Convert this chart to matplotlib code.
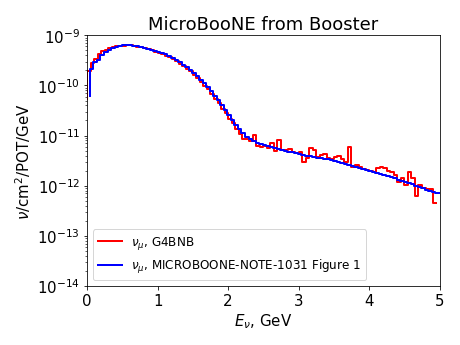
import numpy as np
import matplotlib
matplotlib.use('Agg')
import matplotlib.pyplot as plt

# G4BNB flux, 0.05 GeV bins starting at 0 (first entry is the starting level)
g4_edges = np.round(np.arange(0, 4.96, 0.05), 3)
g4_log = [-10.27,
    -9.72, -9.55, -9.47, -9.37, -9.32, -9.30, -9.26, -9.24, -9.21, -9.21,
    -9.21, -9.20, -9.19, -9.21, -9.23, -9.24, -9.26, -9.28, -9.30, -9.33,
    -9.35, -9.37, -9.41, -9.44, -9.48, -9.52, -9.57, -9.62, -9.68, -9.72,
    -9.79, -9.86, -9.93, -10.02, -10.08, -10.18, -10.27, -10.35, -10.46, -10.55,
    -10.66, -10.75, -10.86, -10.96, -11.07, -11.07, -11.10, -10.98, -11.20, -11.22,
    -11.20, -11.25, -11.14, -11.30, -11.08, -11.29, -11.29, -11.27, -11.33, -11.34,
    -11.33, -11.52, -11.45, -11.25, -11.28, -11.42, -11.38, -11.37, -11.45, -11.46,
    -11.43, -11.40, -11.47, -11.52, -11.23, -11.62, -11.58, -11.62, -11.67, -11.68,
    -11.70, -11.72, -11.65, -11.62, -11.64, -11.70, -11.72, -11.78, -11.92, -11.85,
    -11.98, -11.73, -11.85, -12.20, -11.98, -12.04, -12.06, -12.06, -12.34]

# MICROBOONE-NOTE-1031 Figure 1
note_edges = np.round(np.arange(0.04, 5.0, 0.05), 3)
note_log = [-10.22,
    -9.68, -9.53, -9.50, -9.40, -9.33, -9.30, -9.26, -9.23, -9.21, -9.20,
    -9.20, -9.20, -9.21, -9.22, -9.23, -9.25, -9.27, -9.29, -9.31, -9.33,
    -9.36, -9.38, -9.42, -9.46, -9.50, -9.54, -9.59, -9.64, -9.69, -9.75,
    -9.82, -9.89, -9.96, -10.04, -10.12, -10.21, -10.30, -10.39, -10.48, -10.58,
    -10.68, -10.78, -10.87, -10.95, -11.02, -11.07, -11.11, -11.14, -11.17, -11.19,
    -11.21, -11.23, -11.25, -11.27, -11.29, -11.30, -11.32, -11.33, -11.35, -11.37,
    -11.38, -11.40, -11.41, -11.43, -11.44, -11.45, -11.46, -11.47, -11.49, -11.50,
    -11.52, -11.54, -11.56, -11.58, -11.60, -11.62, -11.64, -11.66, -11.68, -11.70,
    -11.72, -11.74, -11.76, -11.78, -11.80, -11.83, -11.85, -11.88, -11.90, -11.92,
    -11.95, -11.97, -12.00, -12.03, -12.05, -12.08, -12.10, -12.13, -12.15]

g4 = 10.0 ** np.array(g4_log)
note = 10.0 ** np.array(note_log)

fig = plt.figure(figsize=(6.4, 4.8), dpi=72)
ax = fig.add_axes([0.189, 0.171, 0.765, 0.725])

ax.step(g4_edges, g4, where='pre', color='red', lw=2, label=r'$\nu_\mu$, G4BNB')
ax.step(note_edges, note, where='pre', color='blue', lw=2,
        label=r'$\nu_\mu$, MICROBOONE-NOTE-1031 Figure 1')

ax.set_yscale('log')
ax.set_xlim(0, 5)
ax.set_ylim(1e-14, 1e-9)
ax.tick_params(labelsize=15)
ax.set_xlabel(r'$E_\nu$, GeV', fontsize=15)
ax.set_ylabel(r'$\nu$/cm$^2$/POT/GeV', fontsize=15)
ax.set_title('MicroBooNE from Booster', fontsize=18)
ax.legend(loc='lower left', fontsize=12)

fig.savefig('out.png', dpi=72)
